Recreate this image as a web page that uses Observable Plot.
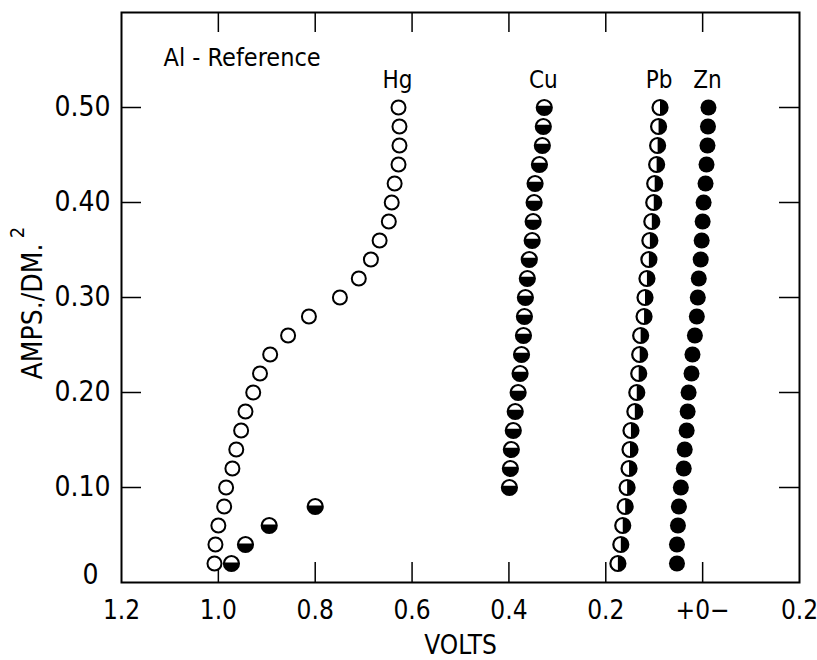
<!DOCTYPE html>
<html>
<head>
<meta charset="utf-8">
<script src="https://cdn.jsdelivr.net/npm/d3@7"></script>
<script src="https://cdn.jsdelivr.net/npm/@observablehq/plot@0.6"></script>
<style>
  html, body { margin: 0; padding: 0; background: #fff; }
  #chart svg { display: block; }
  #chart svg text { font-stretch: condensed; }
</style>
</head>
<body>
<div id="chart"></div>
<script>
// ---- data ----
const amps = [0.02,0.04,0.06,0.08,0.10,0.12,0.14,0.16,0.18,0.20,0.22,0.24,0.26,0.28,0.30,0.32,0.34,0.36,0.38,0.40,0.42,0.44,0.46,0.48,0.50];
const hgVolts = [1.008,1.006,1.000,0.988,0.984,0.971,0.963,0.953,0.944,0.928,0.914,0.893,0.856,0.813,0.749,0.710,0.685,0.667,0.648,0.642,0.636,0.628,0.626,0.626,0.628];
const cuAmps = [0.10,0.12,0.14,0.16,0.18,0.20,0.22,0.24,0.26,0.28,0.30,0.32,0.34,0.36,0.38,0.40,0.42,0.44,0.46,0.48,0.50];
const cuVolts = [0.399,0.397,0.395,0.391,0.387,0.381,0.377,0.374,0.370,0.368,0.366,0.362,0.358,0.352,0.350,0.348,0.346,0.337,0.331,0.329,0.327];
const pbVolts = [0.175,0.169,0.165,0.160,0.156,0.152,0.150,0.148,0.140,0.136,0.132,0.130,0.128,0.121,0.119,0.115,0.111,0.109,0.105,0.101,0.099,0.095,0.093,0.091,0.088];
const znVolts = [0.053,0.053,0.051,0.049,0.045,0.039,0.037,0.033,0.031,0.029,0.023,0.021,0.016,0.012,0.010,0.008,0.004,0.002,0.000,-0.002,-0.006,-0.008,-0.010,-0.011,-0.012];
const hgLowAmps = [0.02,0.04,0.06,0.08];
const hgLowVolts = [0.973,0.944,0.895,0.800];

const seriesNames = ["Hg","Cu","Pb","Zn"];
const xTickValues = [1.2,1.0,0.8,0.6,0.4,0.2,0,-0.2];
const xTickLabels = ["1.2","1.0","0.8","0.6","0.4","0.2","+0\u2212","0.2"];
const xInnerTicks = [1.0,0.8,0.6,0.4,0.2,0];
const yTickValues = [0.10,0.20,0.30,0.40,0.50];
const yTickLabels = ["0.10","0.20","0.30","0.40","0.50"];
const xTitle = "VOLTS";
const yTitle = "AMPS./DM.";
const yTitleSup = "2";
const noteText = "Al - Reference";

// ---- build tables ----
const hg = amps.map((a,i) => ({y:a, x:hgVolts[i]}));
const cu = cuAmps.map((a,i) => ({y:a, x:cuVolts[i]}));
const pb = amps.map((a,i) => ({y:a, x:pbVolts[i]}));
const zn = amps.map((a,i) => ({y:a, x:znVolts[i]}));
const hgLow = hgLowAmps.map((a,i) => ({y:a, x:hgLowVolts[i]}));
const tops = [hg, cu, pb, zn].map((s,i) => ({name: seriesNames[i], x: s[s.length-1].x, y: s[s.length-1].y}));

// custom half-filled symbols
const bottomFill = (k) => ({draw(ctx, size) {
  const r = Math.sqrt(size / Math.PI);
  const a = Math.asin(k);
  ctx.moveTo(r*Math.cos(a), -r*k);
  ctx.arc(0, 0, r, -a, Math.PI + a);
  ctx.closePath();
}});
const rightFill = {draw(ctx, size) {
  const r = Math.sqrt(size / Math.PI);
  ctx.moveTo(0, -r);
  ctx.arc(0, 0, r, -Math.PI/2, Math.PI/2);
  ctx.closePath();
}};

const W = 817, H = 660;
const mL = 121, mR = 18, mT = 12, mB = 78;
const innerW = W - mL - mR, innerH = H - mT - mB;
const font = "'DejaVu Sans Condensed', 'DejaVu Sans', sans-serif";
const tickLen = 20;

const chart = Plot.plot({
  width: W, height: H,
  marginLeft: mL, marginRight: mR, marginTop: mT, marginBottom: mB,
  style: {fontFamily: font, fontStretch: "condensed", background: "white", color: "black"},
  x: {domain: [1.2, -0.2]},
  y: {domain: [0, 0.6]},
  marks: [
    Plot.frame({stroke: "black", strokeWidth: 2}),
    // inward ticks, four sides
    Plot.tickX(xInnerTicks, {x: d => d, insetTop: innerH - tickLen, stroke: "black", strokeWidth: 1.5}),
    Plot.tickX(xInnerTicks, {x: d => d, insetBottom: innerH - tickLen, stroke: "black", strokeWidth: 1.5}),
    Plot.tickY(yTickValues, {y: d => d, insetRight: innerW - tickLen, stroke: "black", strokeWidth: 1.5}),
    Plot.tickY(yTickValues, {y: d => d, insetLeft: innerW - tickLen, stroke: "black", strokeWidth: 1.5}),
    // axes labels
    Plot.axisX({ticks: xTickValues, tickFormat: d => xTickLabels[xTickValues.indexOf(d)], tickSize: 0, tickPadding: 18, fontSize: 26, label: null, fill: "black"}),
    Plot.axisY({ticks: yTickValues, tickFormat: d => yTickLabels[yTickValues.indexOf(d)], tickSize: 0, tickPadding: 11, fontSize: 28, label: null, fill: "black", letterSpacing: 1}),
    Plot.text(["0"], {x: () => 1.2, y: () => 0, text: d => d, dx: -31, dy: -7, textAnchor: "middle", fontSize: 28, fill: "black"}),
    // Hg open circles
    Plot.dot(hg, {x: "x", y: "y", r: 7, fill: "white", stroke: "black", strokeWidth: 2}),
    // Hg low (half-filled, bottom black)
    Plot.dot(hgLow, {x: "x", y: "y", r: 7.5, fill: "white", stroke: "black", strokeWidth: 2.2}),
    Plot.dot(hgLow, {x: "x", y: "y", r: 7.5, symbol: bottomFill(0.15), fill: "black"}),
    // Cu: bottom black
    Plot.dot(cu, {x: "x", y: "y", r: 7.5, fill: "white", stroke: "black", strokeWidth: 2.2}),
    Plot.dot(cu, {x: "x", y: "y", r: 7.5, symbol: bottomFill(0.25), fill: "black"}),
    // Pb: right half black
    Plot.dot(pb, {x: "x", y: "y", r: 7.5, fill: "white", stroke: "black", strokeWidth: 2.2}),
    Plot.dot(pb, {x: "x", y: "y", r: 7.5, symbol: rightFill, fill: "black"}),
    // Zn: filled
    Plot.dot(zn, {x: "x", y: "y", r: 8, fill: "black"}),
    // series labels
    Plot.text(tops, {x: "x", y: "y", text: "name", dy: -20, dx: -1, lineAnchor: "bottom", textAnchor: "middle", fontSize: 24, fill: "black", letterSpacing: 3}),
    // note
    Plot.text([noteText], {frameAnchor: "top-left", text: d => d, dx: 42, dy: 36, textAnchor: "start", lineAnchor: "top", fontSize: 25, fill: "black", letterSpacing: 2.5}),
    // titles
    Plot.text([xTitle], {frameAnchor: "bottom", text: d => d, dy: 63, lineAnchor: "middle", textAnchor: "middle", fontSize: 26, fill: "black", letterSpacing: 3}),
    Plot.text([yTitle], {frameAnchor: "left", text: d => d, rotate: -90, dx: -88, dy: 14, textAnchor: "middle", lineAnchor: "middle", fontSize: 28, fill: "black", letterSpacing: 2}),
    Plot.text([yTitleSup], {frameAnchor: "left", text: d => d, rotate: -90, dx: -104, dy: -65, textAnchor: "middle", lineAnchor: "middle", fontSize: 20, fill: "black"})
  ]
});
document.getElementById("chart").appendChild(chart);
</script>
</body>
</html>
